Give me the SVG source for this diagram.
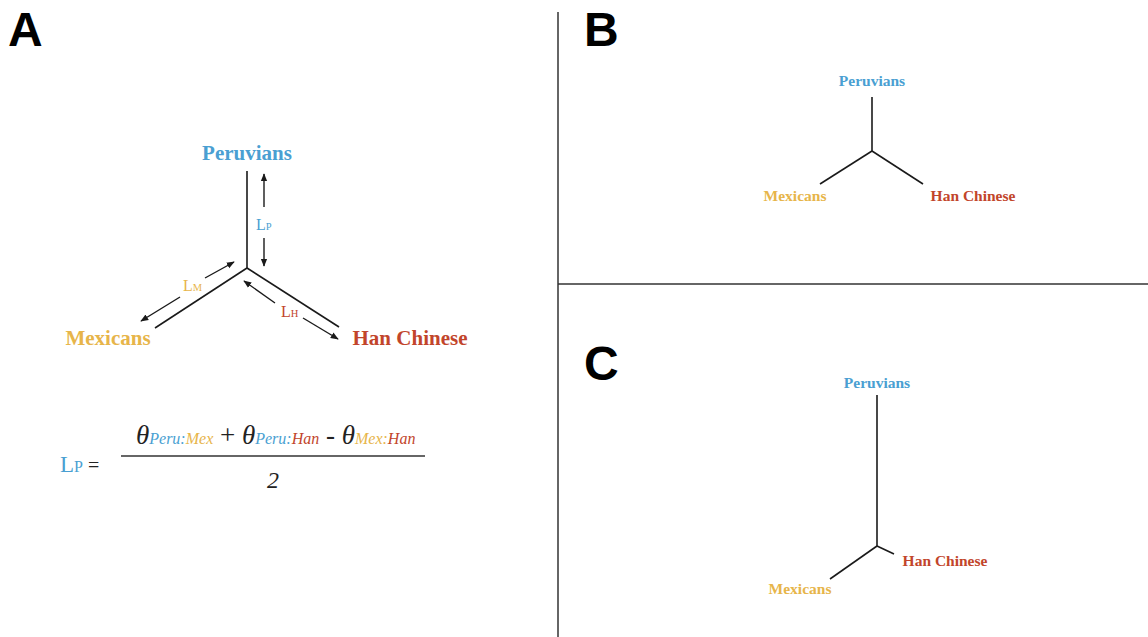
<svg xmlns="http://www.w3.org/2000/svg" width="1148" height="637" viewBox="0 0 1148 637">
<defs>
<style>
.lbl{font-family:"Liberation Serif","Times New Roman",serif;font-weight:bold}
.panel{font-family:"Liberation Sans",Arial,sans-serif;font-weight:bold;font-size:48px;fill:#000}
.blue{fill:#4a9fd2}
.yel{fill:#e7b54a}
.red{fill:#c2452b}
.br{stroke:#1a1a1a;stroke-width:1.6;fill:none}
.arr{stroke:#1a1a1a;stroke-width:1.4;fill:none;marker-end:url(#ah)}
.div{stroke:#333;stroke-width:1.5}
.ser{font-family:"Liberation Serif","Times New Roman",serif}
</style>
<marker id="ah" viewBox="0 0 10 10" refX="9" refY="5" markerWidth="8" markerHeight="8" orient="auto" markerUnits="userSpaceOnUse">
<path d="M0,1 L10,5 L0,9 z" fill="#1a1a1a"/>
</marker>
</defs>
<rect width="1148" height="637" fill="#fff"/>
<g id="dividers">
<line class="div" x1="558" y1="12" x2="558" y2="637"/>
<line class="div" x1="558" y1="284" x2="1148" y2="284"/>
</g>
<g id="panel-letters">
<text class="panel" x="8" y="46">A</text>
<text class="panel" x="584" y="46">B</text>
<text class="panel" x="584" y="380">C</text>
</g>
<g id="A-peruvians"><text class="lbl blue" x="247" y="160" font-size="21" text-anchor="middle">Peruvians</text></g>
<g id="A-mexicans"><text class="lbl yel" x="108" y="345" font-size="21" text-anchor="middle">Mexicans</text></g>
<g id="A-han"><text class="lbl red" x="410" y="345" font-size="21" text-anchor="middle">Han Chinese</text></g>
<g id="A-connectors">
<line class="br" x1="247" y1="171" x2="247" y2="268"/>
<line class="br" x1="247" y1="268" x2="155" y2="328"/>
<line class="br" x1="247" y1="268" x2="339" y2="327"/>
<line class="arr" x1="264" y1="207" x2="264" y2="174"/>
<line class="arr" x1="264" y1="238" x2="264" y2="266"/>
<line class="arr" x1="205" y1="278" x2="234" y2="262"/>
<line class="arr" x1="180" y1="297" x2="141" y2="321"/>
<line class="arr" x1="275" y1="303" x2="244" y2="281"/>
<line class="arr" x1="303" y1="318" x2="338" y2="339"/>
</g>
<g id="A-lengths" class="ser">
<text x="256" y="230" font-size="16" class="blue">L<tspan font-size="10.5">P</tspan></text>
<text x="183" y="291" font-size="16" class="yel">L<tspan font-size="10.5">M</tspan></text>
<text x="281" y="317" font-size="16" class="red">L<tspan font-size="10.5">H</tspan></text>
</g>
<g id="A-formula" class="ser">
<text x="60" y="472" font-size="23" class="blue">L<tspan font-size="16">P</tspan><tspan fill="#222" font-size="20"> =</tspan></text>
<line x1="121" y1="456" x2="425" y2="456" stroke="#333" stroke-width="1.3"/>
<text x="136" y="444" font-size="27" font-style="italic" fill="#222">θ<tspan font-size="16" class="blue">Peru:</tspan><tspan font-size="16" class="yel">Mex</tspan><tspan font-style="normal"> + </tspan>θ<tspan font-size="16" class="blue">Peru:</tspan><tspan font-size="16" class="red">Han</tspan><tspan font-style="normal"> - </tspan>θ<tspan font-size="16" class="yel">Mex:</tspan><tspan font-size="16" class="red">Han</tspan></text>
<text x="273" y="488" font-size="24" font-style="italic" fill="#222" text-anchor="middle">2</text>
</g>
<g id="B-peruvians"><text class="lbl blue" x="872" y="86" font-size="15.5" text-anchor="middle">Peruvians</text></g>
<g id="B-mexicans"><text class="lbl yel" x="795" y="201" font-size="15.5" text-anchor="middle">Mexicans</text></g>
<g id="B-han"><text class="lbl red" x="973" y="201" font-size="15.5" text-anchor="middle">Han Chinese</text></g>
<g id="B-connectors">
<line class="br" x1="872" y1="97" x2="872" y2="151"/>
<line class="br" x1="872" y1="151" x2="820" y2="184"/>
<line class="br" x1="872" y1="151" x2="923" y2="184"/>
</g>
<g id="C-peruvians"><text class="lbl blue" x="877" y="388" font-size="15.5" text-anchor="middle">Peruvians</text></g>
<g id="C-mexicans"><text class="lbl yel" x="800" y="594" font-size="15.5" text-anchor="middle">Mexicans</text></g>
<g id="C-han"><text class="lbl red" x="945" y="566" font-size="15.5" text-anchor="middle">Han Chinese</text></g>
<g id="C-connectors">
<line class="br" x1="877" y1="395" x2="877" y2="546"/>
<line class="br" x1="877" y1="546" x2="830" y2="579"/>
<line class="br" x1="877" y1="546" x2="894" y2="554"/>
</g>
</svg>
